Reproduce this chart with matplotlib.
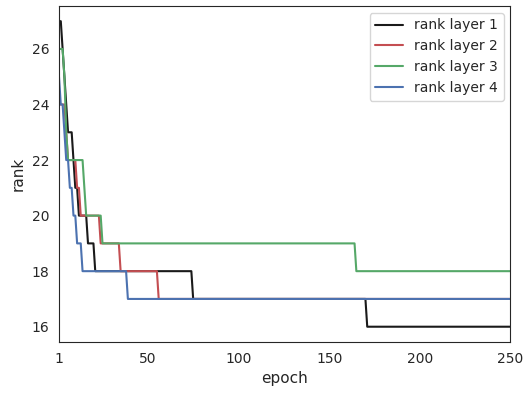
import numpy as np
import matplotlib
matplotlib.use("Agg")
import matplotlib.pyplot as plt
import seaborn as sns

sns.set_style("white")
sns.set_color_codes("deep")

n_epochs = 250

# (first epoch, rank) at each change of the rank per layer
layer1_steps = [(1, 27), (3, 26), (4, 25), (5, 24), (6, 23), (9, 22), (10, 21),
                (12, 20), (17, 19), (21, 18), (75, 17), (171, 16)]
layer2_steps = [(1, 24), (5, 23), (6, 22), (11, 21), (13, 20), (24, 19),
                (35, 18), (56, 17)]
layer3_steps = [(1, 26), (4, 25), (5, 23), (6, 22), (15, 21), (16, 20),
                (25, 19), (165, 18)]
layer4_steps = [(1, 25), (2, 24), (4, 23), (5, 22), (7, 21), (9, 20),
                (11, 19), (14, 18), (39, 17)]

labels = ["rank layer 1", "rank layer 2", "rank layer 3", "rank layer 4"]
colors = ["k", "r", "g", "b"]


def expand(steps, n):
    starts = [s for s, _ in steps] + [n + 1]
    vals = [v for _, v in steps]
    return np.repeat(vals, np.diff(starts))


epochs = np.arange(1, n_epochs + 1)

fig = plt.figure(figsize=(5.29, 3.94), dpi=100)
ax = fig.add_axes([0.1115, 0.132, 0.8535, 0.853])

for steps, lab, c in zip([layer1_steps, layer2_steps, layer3_steps, layer4_steps],
                         labels, colors):
    ax.plot(epochs, expand(steps, n_epochs), color=c, lw=1.5, label=lab)

ax.set_xlim(1, n_epochs)
ax.set_xticks([1, 50, 100, 150, 200, 250])
ax.set_yticks([16, 18, 20, 22, 24, 26])
ax.tick_params(labelsize=10)
ax.set_xlabel("epoch", fontsize=11)
ax.set_ylabel("rank", fontsize=11)
ax.legend(loc="upper right", fontsize=10)

fig.savefig("out.png", dpi=100)
